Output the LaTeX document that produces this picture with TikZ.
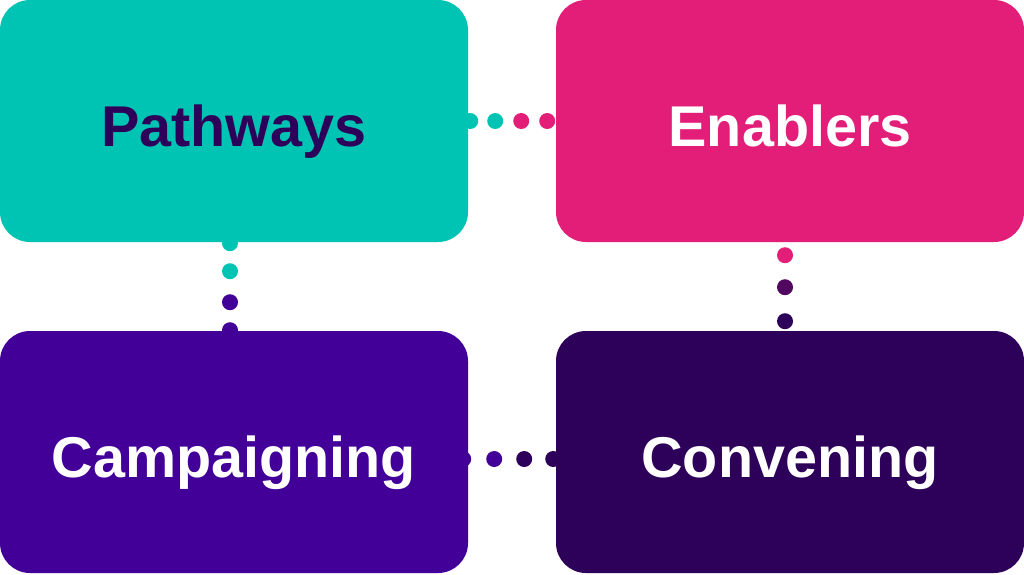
\documentclass[tikz,border=0pt]{standalone}
\usepackage{fontspec}
\setmainfont{Liberation Sans}
\usepackage{tikz}
\usetikzlibrary{calc}
\definecolor{teal1}{HTML}{00C4B3}
\definecolor{pink1}{HTML}{E31E79}
\definecolor{violet1}{HTML}{420099}
\definecolor{plum1}{HTML}{2D0059}
\tikzset{
  area/.style={rounded corners=30pt, minimum width=468pt, minimum height=242pt, inner sep=0pt,
    text height=50pt, text depth=0pt, font=\fontsize{57.5}{62}\selectfont\bfseries},
}

\begin{document}
\begin{tikzpicture}[x=1pt, y=-1pt]
  \useasboundingbox (0,0) rectangle (1024,574);

  % The four areas
  \node[area, fill=teal1, text=plum1] (path) at (234,121) {Pathways};
  \node[area, fill=pink1, text=white] (enab) at (790,121) {Enablers};
  \node[area, fill=violet1, text=white] (camp) at (234,452) {Campaigning};
  \node[area, fill=plum1, text=white] (conv) at (790,452) {Convening};

  % Dotted links
  \foreach \d/\c in {2/teal1, 27/teal1, 53/pink1, 79/pink1}
    \fill[\c] ($(path.east)+(\d,0)$) circle (8pt);
  \foreach \d/\c in {1/teal1, 29/teal1, 60/violet1, 88/violet1}
    \fill[\c] ($(path.south)+(-4,\d)$) circle (8pt);
  \foreach \d/\c in {13/pink1, 45/plum1!80!pink1, 79/plum1}
    \fill[\c] ($(enab.south)+(-5,\d)$) circle (8pt);
  \foreach \d/\c in {-5/violet1, 26/violet1, 56/plum1, 85/plum1}
    \fill[\c] ($(camp.east)+(\d,7)$) circle (8pt);
\end{tikzpicture}
\end{document}
